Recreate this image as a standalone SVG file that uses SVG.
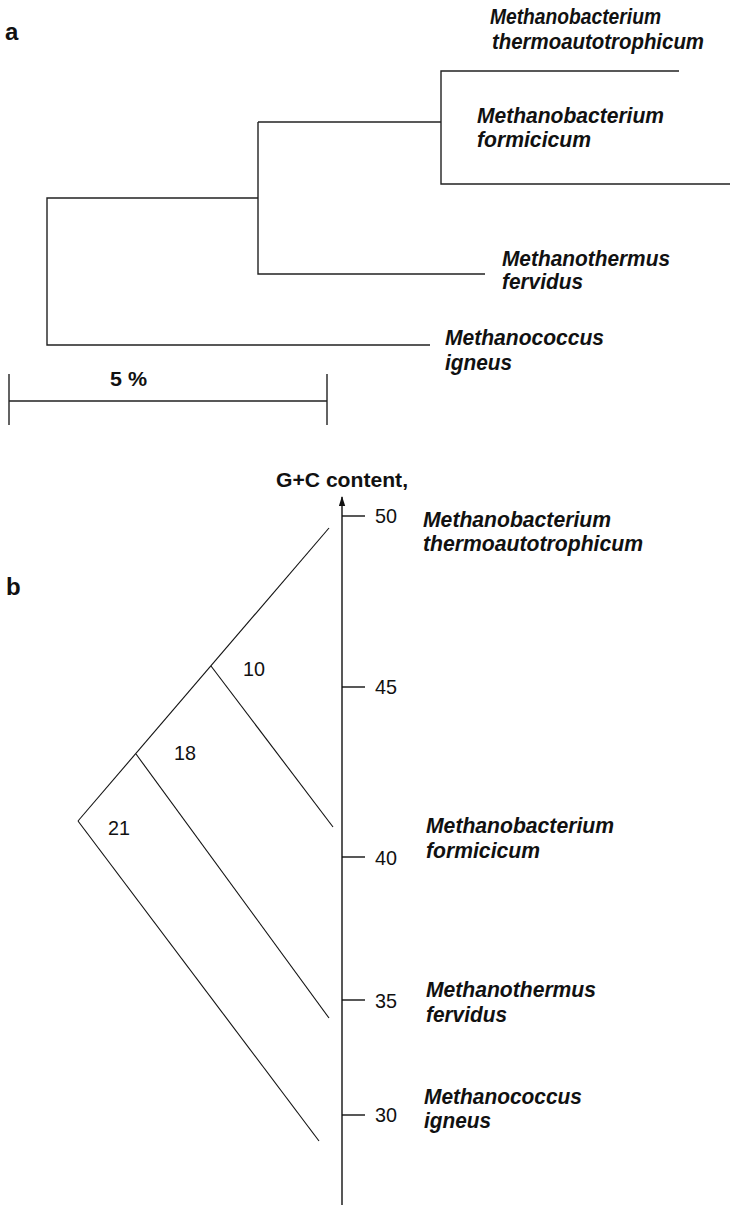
<svg xmlns="http://www.w3.org/2000/svg" width="730" height="1205" viewBox="0 0 730 1205">
  <style>
    .panel { font-family: "Liberation Sans", Arial, sans-serif; font-weight: bold; font-size: 24px; fill: #111; }
    .taxon { font-family: "Liberation Sans", Arial, sans-serif; font-weight: bold; font-style: italic; font-size: 22px; fill: #111; }
    .num { font-family: "Liberation Sans", Arial, sans-serif; font-size: 21px; fill: #111; }
    .bold { font-family: "Liberation Sans", Arial, sans-serif; font-weight: bold; font-size: 21px; fill: #111; }
    .tree-a { stroke: #222; stroke-width: 1.4; fill: none; }
    .tree-b { stroke: #111; stroke-width: 1.1; fill: none; }
    .axis { stroke: #111; stroke-width: 1.4; fill: none; }
  </style>
  <defs>
    <!-- arrowhead drawn along +x so orient="auto" follows the line -->
    <marker id="axis-head" markerWidth="10" markerHeight="7" refX="9" refY="3.5" orient="auto" markerUnits="userSpaceOnUse" viewBox="0 0 10 7">
      <path d="M0,0.3 L10,3.5 L0,6.7 Z" fill="#111"/>
    </marker>
  </defs>
  <rect width="730" height="1205" fill="#fff"/>

  <!-- Panel a: phylogram -->
  <text class="panel" x="5" y="40">a</text>

  <g id="connectors-a">
    <path class="tree-a" d="M679,71 H441 V184 H730"/>
    <path class="tree-a" d="M441,122 H258"/>
    <path class="tree-a" d="M258,122 V274 H485"/>
    <path class="tree-a" d="M258,198 H47 V345 H430"/>
  </g>

  <g id="a-mb-thermo">
    <text class="taxon" x="490" y="24" textLength="171" lengthAdjust="spacingAndGlyphs">Methanobacterium</text>
    <text class="taxon" x="492" y="49" textLength="212" lengthAdjust="spacingAndGlyphs">thermoautotrophicum</text>
  </g>
  <g id="a-mb-formicicum">
    <text class="taxon" x="477" y="123" textLength="187" lengthAdjust="spacingAndGlyphs">Methanobacterium</text>
    <text class="taxon" x="477" y="147" textLength="114" lengthAdjust="spacingAndGlyphs">formicicum</text>
  </g>
  <g id="a-mt-fervidus">
    <text class="taxon" x="502" y="266" textLength="168" lengthAdjust="spacingAndGlyphs">Methanothermus</text>
    <text class="taxon" x="502" y="289" textLength="81" lengthAdjust="spacingAndGlyphs">fervidus</text>
  </g>
  <g id="a-mc-igneus">
    <text class="taxon" x="445" y="345" textLength="159" lengthAdjust="spacingAndGlyphs">Methanococcus</text>
    <text class="taxon" x="445" y="370" textLength="67" lengthAdjust="spacingAndGlyphs">igneus</text>
  </g>

  <g id="scale-bar">
    <path class="tree-a" d="M9,374 V425 M9,401 H327 M327,374 V425"/>
    <text class="bold" x="110" y="386" textLength="37" lengthAdjust="spacingAndGlyphs">5 %</text>
  </g>

  <!-- Panel b: G+C content axis -->
  <text class="panel" x="6" y="595">b</text>

  <g id="gc-axis">
    <line class="axis" x1="342" y1="1205" x2="342" y2="497" marker-end="url(#axis-head)"/>
    <text class="bold" x="276" y="487" textLength="132" lengthAdjust="spacingAndGlyphs">G+C content,</text>
    <g class="axis">
      <line x1="342" y1="516" x2="365" y2="516"/>
      <line x1="342" y1="687" x2="365" y2="687"/>
      <line x1="342" y1="857" x2="365" y2="857"/>
      <line x1="342" y1="1000" x2="365" y2="1000"/>
      <line x1="342" y1="1115" x2="365" y2="1115"/>
    </g>
    <text class="num" x="375" y="523" textLength="22" lengthAdjust="spacingAndGlyphs">50</text>
    <text class="num" x="375" y="694" textLength="22" lengthAdjust="spacingAndGlyphs">45</text>
    <text class="num" x="375" y="865" textLength="22" lengthAdjust="spacingAndGlyphs">40</text>
    <text class="num" x="375" y="1008" textLength="22" lengthAdjust="spacingAndGlyphs">35</text>
    <text class="num" x="375" y="1122" textLength="22" lengthAdjust="spacingAndGlyphs">30</text>
  </g>

  <g id="connectors-b">
    <line class="tree-b" x1="78" y1="821" x2="329" y2="528"/>
    <line class="tree-b" x1="211" y1="666" x2="333" y2="827"/>
    <line class="tree-b" x1="136" y1="754" x2="329" y2="1018"/>
    <line class="tree-b" x1="78" y1="821" x2="319" y2="1141"/>
  </g>

  <g id="node-10"><text class="num" x="243" y="676" textLength="22" lengthAdjust="spacingAndGlyphs">10</text></g>
  <g id="node-18"><text class="num" x="174" y="760" textLength="22" lengthAdjust="spacingAndGlyphs">18</text></g>
  <g id="node-21"><text class="num" x="108" y="835" textLength="22" lengthAdjust="spacingAndGlyphs">21</text></g>

  <g id="b-mb-thermo">
    <text class="taxon" x="423" y="527" textLength="188" lengthAdjust="spacingAndGlyphs">Methanobacterium</text>
    <text class="taxon" x="423" y="551" textLength="220" lengthAdjust="spacingAndGlyphs">thermoautotrophicum</text>
  </g>
  <g id="b-mb-formicicum">
    <text class="taxon" x="426" y="833" textLength="188" lengthAdjust="spacingAndGlyphs">Methanobacterium</text>
    <text class="taxon" x="426" y="858" textLength="114" lengthAdjust="spacingAndGlyphs">formicicum</text>
  </g>
  <g id="b-mt-fervidus">
    <text class="taxon" x="426" y="997" textLength="170" lengthAdjust="spacingAndGlyphs">Methanothermus</text>
    <text class="taxon" x="426" y="1022" textLength="81" lengthAdjust="spacingAndGlyphs">fervidus</text>
  </g>
  <g id="b-mc-igneus">
    <text class="taxon" x="424" y="1104" textLength="158" lengthAdjust="spacingAndGlyphs">Methanococcus</text>
    <text class="taxon" x="424" y="1128" textLength="67" lengthAdjust="spacingAndGlyphs">igneus</text>
  </g>
</svg>
